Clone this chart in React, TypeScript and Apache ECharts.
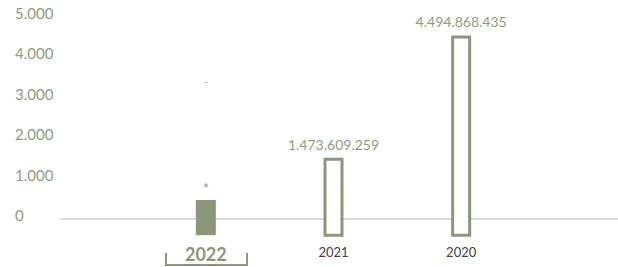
import React, { useEffect, useRef } from "react";
import * as echarts from "echarts";

// ---- data ----
const categories: string[] = ["2022", "2021", "2020"];
const values: number[] = [470000000, 1473609259, 4494868435];
const valueLabels: string[] = ["*", "1.473.609.259", "4.494.868.435"];
const markerValues: number[] = [3400000000, NaN, NaN];
const markerLabels: string[] = ["-", "", ""];
const yTickValues: number[] = [0, 1000000000, 2000000000, 3000000000, 4000000000, 5000000000];
const highlightCategory = "2022";
const barBase = -400000000;
const yMin = -400000000;
const yMax = 5000000000;

const GREEN = "#8b9776";
const LABEL_GREEN = "#8f9b7d";
const FONT = "Lato, 'Open Sans', sans-serif";

const fmtThousands = (n: number) =>
  String(Math.round(n)).replace(/\B(?=(\d{3})+(?!\d))/g, ".");

export default function App() {
  const ref = useRef<HTMLDivElement>(null);
  useEffect(() => {
    if (!ref.current) return;
    const chart = echarts.init(ref.current, null, { renderer: "svg" });
    const top = 16.5;
    const bottom = 31.8;
    chart.setOption({
      animation: false,
      backgroundColor: "#ffffff",
      grid: [
        { left: 142, right: 93, top, bottom },
        { left: 61, right: 0, top, bottom },
      ],
      xAxis: [
        {
          type: "category",
          gridIndex: 0,
          data: categories,
          axisLine: { show: false },
          axisTick: { show: false },
          axisLabel: {
            margin: 10,
            formatter: (v: string) => (v === highlightCategory ? `{hl|${v}}` : `{n|${v}}`),
            rich: {
              hl: { fontFamily: FONT, fontSize: 18, fontWeight: "bold", color: GREEN },
              n: { fontFamily: FONT, fontSize: 13, color: "#404040" },
            },
          },
        },
        {
          type: "category",
          gridIndex: 1,
          data: [""],
          axisLine: { show: true, onZero: true, lineStyle: { color: "#dcdcdc", width: 2 } },
          axisTick: { show: false },
          axisLabel: { show: false },
        },
      ],
      yAxis: [
        {
          type: "value",
          gridIndex: 0,
          min: yMin,
          max: yMax,
          show: false,
        },
        {
          type: "value",
          gridIndex: 1,
          min: yMin,
          max: yMax,
          axisLine: { show: false },
          axisTick: { show: false },
          splitLine: { show: false },
          axisLabel: {
            customValues: yTickValues,
            align: "left",
            verticalAlign: "bottom",
            lineHeight: 8,
            margin: 46,
            fontFamily: FONT,
            fontSize: 15,
            color: LABEL_GREEN,
            formatter: (v: number) => fmtThousands(v / 1000000),
          },
        },
      ],
      series: [
        {
          type: "custom",
          xAxisIndex: 0,
          yAxisIndex: 0,
          z: 5,
          data: values.map((v, i) => [i, v]),
          renderItem: (params: any, api: any) => {
            const idx = api.value(0);
            const val = api.value(1);
            const pTop = api.coord([idx, val]);
            const pBot = api.coord([idx, barBase]);
            const filled = categories[idx] === highlightCategory;
            const w = filled ? 20 : 17;
            return {
              type: "group",
              children: [
                {
                  type: "rect",
                  shape: { x: pTop[0] - w / 2, y: pTop[1], width: w, height: pBot[1] - pTop[1] },
                  style: filled
                    ? { fill: GREEN }
                    : { fill: "#ffffff", stroke: GREEN, lineWidth: 3 },
                },
                {
                  type: "text",
                  x: pTop[0],
                  y: pTop[1] - (filled ? 12 : 15),
                  style: {
                    text: valueLabels[idx],
                    fill: LABEL_GREEN,
                    font: `${filled ? 15 : 14}px ${FONT}`,
                    align: "center",
                    verticalAlign: "middle",
                  },
                },
              ],
            };
          },
        },
        {
          type: "scatter",
          xAxisIndex: 0,
          yAxisIndex: 0,
          symbolSize: 0,
          data: markerValues.map((v, i) => (isNaN(v) ? null : [i, v])),
          label: {
            show: true,
            position: "inside",
            formatter: (p: any) => markerLabels[p.dataIndex],
            fontFamily: FONT,
            fontSize: 14,
            color: "#a3ab96",
          },
        },
      ],
      graphic: [
        {
          type: "polyline",
          shape: { points: [[166, 253], [166, 265], [247, 265], [247, 253]] },
          style: { stroke: GREEN, lineWidth: 2, fill: "none" },
        },
      ],
    });
    return () => chart.dispose();
  }, []);
  return (
    <div
      ref={ref}
      style={{ position: "fixed", left: 0, top: 0, width: 618, height: 267 }}
    />
  );
}
